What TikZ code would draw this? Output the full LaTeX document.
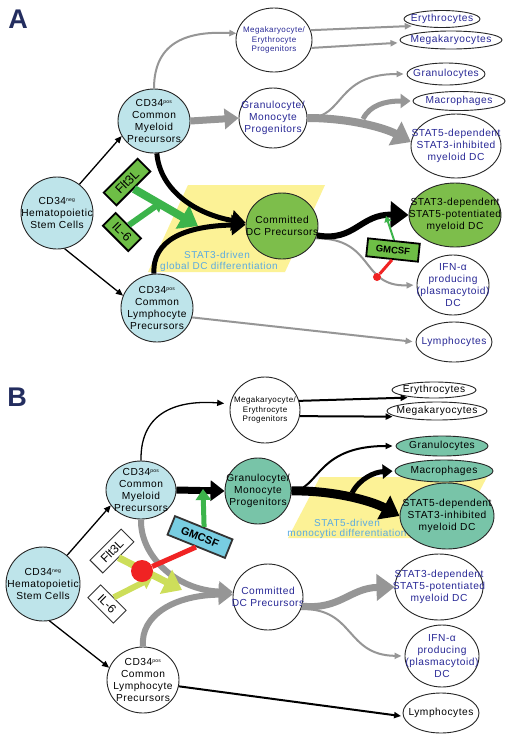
\documentclass[tikz,border=0pt]{standalone}
\usepackage{fontspec}
\setmainfont{Liberation Sans}
\newfontfamily\dfont[LetterSpace=5]{Liberation Sans}
\usetikzlibrary{arrows.meta,shapes.geometric,calc}
\definecolor{lb}{RGB}{190,228,234}
\definecolor{grf}{RGB}{125,190,75}
\definecolor{tealf}{RGB}{120,196,168}
\definecolor{boxg}{RGB}{110,190,70}
\definecolor{arrg}{RGB}{60,180,75}
\definecolor{ygrn}{RGB}{205,222,90}
\definecolor{yel}{RGB}{252,242,150}
\definecolor{gryA}{RGB}{150,150,150}
\definecolor{navy}{RGB}{40,40,150}
\definecolor{lbt}{RGB}{90,170,225}
\definecolor{gmb}{RGB}{120,205,225}
\definecolor{redc}{RGB}{240,35,35}
\definecolor{labc}{RGB}{35,45,95}
\pgfdeclarelayer{bg}
\pgfsetlayers{bg,main}
\newcommand{\sps}[1]{\textsuperscript{\fontsize{5}{5}\selectfont #1}}
\newcommand{\cellN}[8]{%
  \node[cell,fill=#2,minimum width=#6pt,minimum height=#7pt] (#1) at (#4,#5) {};
  \node[celltxt,#3] (#1t) at (#1) {#8};}
\tikzset{
  cell/.style={ellipse,draw=black!85,line width=0.9pt,inner sep=0pt},
  celltxt/.style={align=center,inner sep=0pt,font=\dfont\fontsize{10.2}{11.8}\selectfont},
  ntx/.style={text=navy},
  btx/.style={text=black},
  smf/.style={font=\dfont\fontsize{8}{9.5}\selectfont},
  gbox/.style={rectangle,draw=black,line width=1.8pt,fill=boxg,inner xsep=2pt,inner ysep=2pt,minimum height=18pt,font=\fontsize{12.5}{12.5}\selectfont},
  wbox/.style={rectangle,draw=black!80,line width=0.9pt,fill=white,inner xsep=2pt,inner ysep=2pt,minimum height=18pt,font=\fontsize{12}{12}\selectfont},
  tipS/.style={-{Triangle[length=7pt,width=6pt]}},
  tipM/.style={-{Triangle[length=10pt,width=14pt]}},
  tipL/.style={-{Triangle[length=14pt,width=20pt]}},
  tipXL/.style={-{Triangle[length=18pt,width=26pt]}},
  lbl/.style={text=lbt,font=\dfont\fontsize{10}{11}\selectfont,inner sep=0pt},
  panel/.style={text=labc,font=\fontsize{27}{27}\selectfont\bfseries,inner sep=0pt}
}
\begin{document}
\begin{tikzpicture}[x=1pt,y=-1pt]
\useasboundingbox (0,0) rectangle (512,740);
\begin{pgfonlayer}{bg}
\fill[white] (0,0) rectangle (512,740);
\fill[yel] (188,185) -- (325,185) -- (285,272) -- (148,272) -- cycle;
\fill[yel] (320,477) -- (487,477) -- (455,538) -- (288,538) -- cycle;
\end{pgfonlayer}

% ---------------- Panel A ----------------
\node[panel] (labA) at (18,19) {A};
\node[lbl] (stA1) at (217,255) {STAT3-driven};
\node[lbl] (stA2) at (219,267) {global DC differentiation};

\cellN{hscA}{lb}{btx}{57}{213}{72}{72}{CD34\sps{neg}\\Hematopoietic\\Stem Cells}
\cellN{cmpA}{lb}{btx}{154}{121}{72}{64}{CD34\sps{pos}\\Common\\Myeloid\\Precursors}
\cellN{clpA}{lb}{btx}{157}{308}{72}{68}{CD34\sps{pos}\\Common\\Lymphocyte\\Precursors}
\cellN{mepA}{white}{ntx,smf}{274}{40}{76}{64}{Megakaryocyte/\\Erythrocyte\\Progenitors}
\cellN{gmpA}{white}{ntx}{273}{118}{68}{60}{Granulocyte/\\Monocyte\\Progenitors}
\cellN{eryA}{white}{ntx}{442}{19}{76}{17}{Erythrocytes}
\cellN{megA}{white}{ntx}{451}{40}{102}{18}{Megakaryocytes}
\cellN{granA}{white}{ntx}{446}{74}{78}{22}{Granulocytes}
\cellN{macA}{white}{ntx}{459}{101}{92}{19}{Macrophages}
\cellN{statfA}{white}{ntx}{456}{146}{90}{64}{STAT5-dependent\\STAT3-inhibited\\myeloid DC}
\cellN{stattA}{grf}{btx}{455}{215}{92}{64}{STAT3-dependent\\STAT5-potentiated\\myeloid DC}
\cellN{ifnA}{white}{ntx}{453}{285}{72}{60}{IFN-α\\producing\\(plasmacytoid)\\DC}
\cellN{lymA}{white}{ntx}{454}{342}{76}{40}{Lymphocytes}
\cellN{dcA}{grf}{btx}{282}{226}{72}{66}{Committed\\DC Precursors}

\draw[black,line width=1.3pt,tipS] (hscA.52) -- (cmpA.205);
\draw[black,line width=1.3pt,tipS] (hscA.-78) -- (clpA.160);
\draw[gryA,line width=2pt,tipS] (cmpA.north) .. controls (154,40) and (190,31) .. (mepA.170);
\draw[gryA,line width=7pt,tipL] (cmpA.east) -- (gmpA.west);
\draw[gryA,line width=2pt,tipS,shorten >=5pt] (mepA.15) -- (eryA.195);
\draw[gryA,line width=2pt,tipS,shorten >=4pt] (mepA.-12) -- (megA.183);
\draw[gryA,line width=2pt,tipS,shorten >=3pt] (gmpA.east) .. controls (345,118) and (335,74) .. (granA.west);
\draw[gryA,line width=8pt,tipXL] (gmpA.east) .. controls (350,118) and (385,128) .. (statfA.175);
\coordinate (macsA) at (363,119);
\draw[gryA,line width=5pt,tipM,shorten >=2pt] (macsA) .. controls (370,105) and (385,101) .. (macA.west);
\draw[gryA,line width=2pt,tipS,shorten >=3pt] (clpA.-15) -- (lymA.west);
\draw[gryA,line width=2pt,tipS,shorten >=3pt] (dcA.-20) .. controls (375,238) and (360,287) .. (ifnA.west);

\node[gbox,rotate=45,minimum width=48pt] (flA) at (127,182) {Flt3L};
\node[gbox,rotate=-45,minimum width=36pt] (ilA) at (122,232) {IL-6};
\coordinate (fltipA) at (198,226);
\coordinate (iltipA) at (163,201);
\draw[arrg,line width=8pt,tipXL] (flA.south) -- (fltipA);
\draw[arrg,line width=6pt,tipM] (ilA.north) -- (iltipA);

\draw[black,line width=5pt,tipL] (cmpA.-85) .. controls (160,190) and (195,214) .. (dcA.175);
\draw[black,line width=5pt,tipL] (clpA.95) .. controls (152,240) and (185,226) .. (dcA.178);
\draw[black,line width=6pt,tipXL] (dcA.-15) .. controls (355,242) and (360,214) .. (stattA.west);

\node[gbox,rotate=-6,minimum width=52pt,font=\fontsize{9.5}{9.5}\selectfont\bfseries] (gmA) at (393,250) {GMCSF};
\coordinate (gmgA) at (386,216);
\draw[arrg,line width=2pt,-{Triangle[length=6pt,width=7pt]}] (gmA.north) -- (gmgA);
\node[circle,fill=redc,minimum size=8pt,inner sep=0pt] (redA) at (377,277) {};
\draw[redc,line width=3pt] (gmA.south) -- (redA);

% ---------------- Panel B ----------------
\node[panel] (labB) at (17,397) {B};
\node[lbl] (stB1) at (347,523) {STAT5-driven};
\node[lbl] (stB2) at (347,534) {monocytic differentiation};

\cellN{hscB}{lb}{btx}{43}{584}{74}{74}{CD34\sps{neg}\\Hematopoietic\\Stem Cells}
\cellN{cmpB}{lb}{btx}{141}{490}{70}{58}{CD34\sps{pos}\\Common\\Myeloid\\Precursors}
\cellN{clpB}{white}{btx}{143}{680}{72}{66}{CD34\sps{pos}\\Common\\Lymphocyte\\Precursors}
\cellN{mepB}{white}{btx,smf}{265}{410}{70}{66}{Megakaryocyte/\\Erythrocyte\\Progenitors}
\cellN{gmpB}{tealf}{btx}{258}{491}{66}{66}{Granulocyte/\\Monocyte\\Progenitors}
\cellN{eryB}{white}{btx}{434}{390}{84}{16}{Erythrocytes}
\cellN{megB}{white}{btx}{437}{411}{100}{18}{Megakaryocytes}
\cellN{granB}{tealf}{btx}{442}{446}{92}{20}{Granulocytes}
\cellN{macB}{tealf}{btx}{444}{471}{98}{22}{Macrophages}
\cellN{statfB}{tealf}{btx}{447}{516}{94}{66}{STAT5-dependent\\STAT3-inhibited\\myeloid DC}
\cellN{dcB}{white}{ntx}{268}{597}{70}{66}{Committed\\DC Precursors}
\cellN{stattB}{white}{ntx}{439}{587}{88}{66}{STAT3-dependent\\STAT5-potentiated\\myeloid DC}
\cellN{ifnB}{white}{ntx}{442}{656}{74}{62}{IFN-α\\producing\\(plasmacytoid)\\DC}
\cellN{lymB}{white}{btx}{441}{713}{76}{40}{Lymphocytes}

\draw[black,line width=1.3pt,tipS] (hscB.50) -- (cmpB.207);
\draw[black,line width=1.3pt,tipS] (hscB.-80) -- (clpB.160);
\draw[black,line width=1.3pt,tipS,shorten >=6pt] (cmpB.north) .. controls (140,410) and (180,400) .. (mepB.170);
\draw[black,line width=7pt,tipL] (cmpB.east) -- (gmpB.west);
\draw[black,line width=2pt,tipS,shorten >=6pt] (mepB.15) -- (eryB.200);
\draw[black,line width=2pt,tipS,shorten >=4pt] (mepB.-10) -- (megB.188);
\draw[black,line width=2pt,tipS,shorten >=3pt] (gmpB.east) .. controls (320,490) and (315,446) .. (granB.west);
\draw[black,line width=9pt,tipXL] (gmpB.east) .. controls (330,490) and (370,500) .. (statfB.west);
\coordinate (macsB) at (352,493);
\draw[black,line width=5pt,tipM,shorten >=2pt] (macsB) .. controls (360,478) and (375,472) .. (macB.west);
\draw[black,line width=2pt,tipS,shorten >=2pt] (clpB.-10) -- (lymB.185);

\draw[gryA,line width=6pt,tipL] (cmpB.-90) .. controls (140,555) and (175,590) .. (dcB.172);
\draw[gryA,line width=6pt,tipL] (clpB.north) .. controls (140,615) and (175,595) .. (dcB.176);
\draw[gryA,line width=7pt,tipXL] (dcB.-15) .. controls (340,610) and (350,588) .. (stattB.west);
\draw[gryA,line width=2pt,tipS,shorten >=3pt] (dcB.-20) .. controls (355,608) and (345,655) .. (ifnB.west);

\node[wbox,rotate=45,minimum width=44pt] (flB) at (112,551) {Flt3L};
\node[wbox,rotate=-45,minimum width=36pt] (ilB) at (107,604) {IL-6};
\coordinate (fltipB) at (182,590);
\coordinate (iltipB) at (152,578);
\draw[ygrn,line width=7pt,tipXL] (flB.south) -- (fltipB);
\draw[ygrn,line width=6pt,tipM] (ilB.north) -- (iltipB);

\node[wbox,fill=gmb,line width=1.8pt,rotate=-22,minimum width=62pt,minimum height=20pt,font=\fontsize{11}{11}\selectfont\bfseries] (gmB) at (200,537) {GMCSF};
\node[circle,fill=redc,minimum size=22pt,inner sep=0pt] (redB) at (142,571) {};
\draw[redc,line width=5pt] (gmB.south) -- (redB);
\coordinate (gmgB) at (203,489);
\draw[arrg,line width=5pt,-{Triangle[length=11pt,width=15pt]}] (gmB.north) -- (gmgB);
\end{tikzpicture}
\end{document}
